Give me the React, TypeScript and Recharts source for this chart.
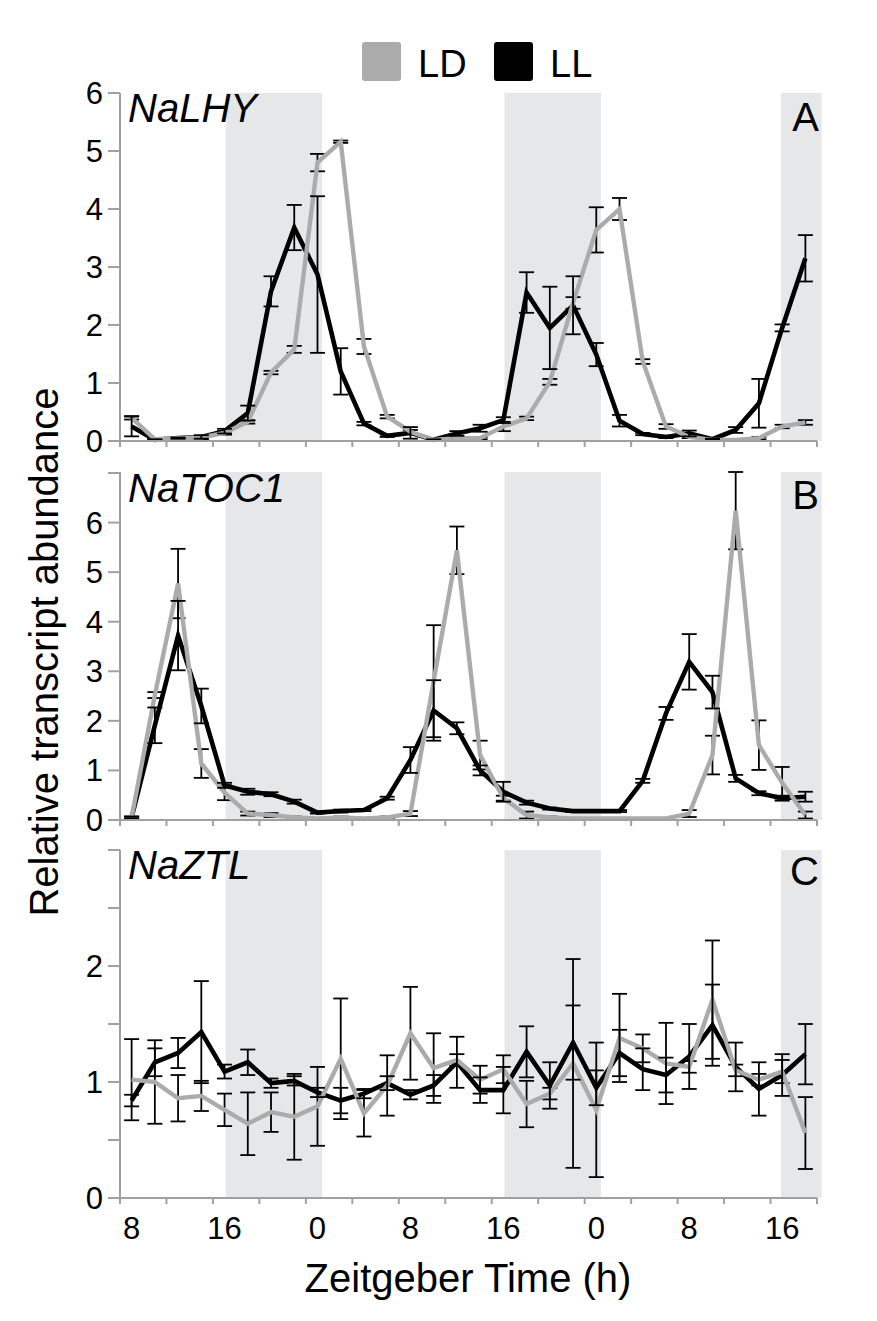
import React from 'react';
import { LineChart, Line, XAxis, YAxis, ReferenceArea, ErrorBar } from 'recharts';

// ---------- data ----------
const zeitgeberTime = [8, 10, 12, 14, 16, 18, 20, 22, 24, 26, 28, 30, 32, 34, 36, 38, 40, 42, 44, 46, 48, 50, 52, 54, 56, 58, 60, 62, 64, 66];

const lhyLD = [0.40, 0.03, 0.05, 0.06, 0.14, 0.33, 1.18, 1.58, 4.80, 5.16, 1.63, 0.42, 0.16, 0.02, 0.05, 0.05, 0.25, 0.39, 1.02, 2.38, 3.64, 4.00, 1.37, 0.25, 0.07, 0.02, 0.02, 0.05, 0.25, 0.32];
const lhyLDErr = [0.03, 0.01, 0.01, 0.03, 0.03, 0.03, 0.03, 0.06, 0.15, 0.02, 0.13, 0.03, 0.03, 0.01, 0.02, 0.02, 0.08, 0.03, 0.05, 0.10, 0.39, 0.19, 0.04, 0.04, 0.02, 0.01, 0.01, 0.02, 0.03, 0.04];
const lhyLL = [0.25, 0.02, 0.05, 0.07, 0.17, 0.48, 2.58, 3.68, 2.87, 1.20, 0.30, 0.09, 0.14, 0.02, 0.13, 0.22, 0.36, 2.56, 1.95, 2.34, 1.49, 0.35, 0.12, 0.07, 0.13, 0.03, 0.19, 0.65, 1.95, 3.15];
const lhyLLErr = [0.17, 0.01, 0.01, 0.03, 0.04, 0.13, 0.26, 0.39, 1.35, 0.40, 0.03, 0.02, 0.10, 0.01, 0.04, 0.06, 0.05, 0.35, 0.71, 0.50, 0.20, 0.10, 0.02, 0.02, 0.05, 0.01, 0.05, 0.42, 0.06, 0.40];

const toc1LD = [0.05, 2.52, 4.77, 1.14, 0.55, 0.13, 0.10, 0.05, 0.03, 0.05, 0.03, 0.05, 0.13, 2.80, 5.44, 1.31, 0.44, 0.10, 0.05, 0.03, 0.03, 0.03, 0.03, 0.03, 0.13, 1.31, 6.24, 1.51, 0.75, 0.10];
const toc1LDErr = [0.02, 0.06, 0.70, 0.29, 0.15, 0.04, 0.04, 0.02, 0.01, 0.02, 0.01, 0.02, 0.05, 1.13, 0.48, 0.29, 0.05, 0.07, 0.02, 0.01, 0.01, 0.01, 0.01, 0.01, 0.07, 0.39, 0.78, 0.50, 0.32, 0.07];
const toc1LL = [0.05, 1.91, 3.72, 2.30, 0.70, 0.57, 0.52, 0.37, 0.15, 0.18, 0.20, 0.44, 1.21, 2.21, 1.85, 1.00, 0.57, 0.35, 0.23, 0.18, 0.18, 0.18, 0.79, 2.15, 3.19, 2.58, 0.84, 0.54, 0.44, 0.47];
const toc1LLErr = [0.02, 0.36, 0.70, 0.35, 0.05, 0.06, 0.04, 0.04, 0.02, 0.03, 0.02, 0.03, 0.26, 0.61, 0.12, 0.10, 0.20, 0.04, 0.02, 0.02, 0.02, 0.02, 0.04, 0.13, 0.56, 0.33, 0.07, 0.04, 0.05, 0.10];

const ztlLD = [1.02, 1.00, 0.86, 0.88, 0.76, 0.64, 0.74, 0.70, 0.79, 1.20, 0.73, 0.97, 1.42, 1.12, 1.19, 1.02, 1.11, 0.81, 0.90, 1.16, 0.76, 1.38, 1.29, 1.16, 1.13, 1.71, 1.10, 1.02, 1.09, 0.56];
const ztlLDErr = [0.35, 0.36, 0.20, 0.13, 0.14, 0.27, 0.17, 0.37, 0.34, 0.52, 0.20, 0.26, 0.40, 0.30, 0.05, 0.12, 0.12, 0.20, 0.05, 0.90, 0.58, 0.38, 0.12, 0.35, 0.05, 0.51, 0.05, 0.05, 0.10, 0.31];
const ztlLL = [0.84, 1.17, 1.25, 1.43, 1.09, 1.17, 0.99, 1.01, 0.91, 0.84, 0.90, 0.99, 0.89, 0.97, 1.17, 0.93, 0.93, 1.26, 0.97, 1.34, 0.95, 1.25, 1.11, 1.06, 1.22, 1.49, 1.13, 0.94, 1.06, 1.24];
const ztlLLErr = [0.05, 0.12, 0.13, 0.44, 0.06, 0.11, 0.04, 0.04, 0.04, 0.11, 0.04, 0.06, 0.04, 0.09, 0.22, 0.11, 0.20, 0.22, 0.20, 0.32, 0.15, 0.20, 0.18, 0.15, 0.28, 0.35, 0.21, 0.23, 0.18, 0.26];

const seriesNames = ['LD', 'LL'];
const geneNames = ['NaLHY', 'NaTOC1', 'NaZTL'];
const panelLetters = ['A', 'B', 'C'];

const darkPeriods: [number, number][] = [[16.1, 24.4], [40.1, 48.4], [63.9, 67.4]];
const markTicks = [7, 11, 15, 19, 23, 27, 31, 35, 39, 43, 47, 51, 55, 59, 63, 67];
const labelTicks = [8, 16, 24, 32, 40, 48, 56, 64];

const yTicksA = [0, 1, 2, 3, 4, 5, 6];
const yTicksB = [0, 1, 2, 3, 4, 5, 6, 7];
const yTicksC = [0, 0.5, 1, 1.5, 2, 2.5, 3];
const yLabelsA = [0, 1, 2, 3, 4, 5, 6];
const yLabelsB = [0, 1, 2, 3, 4, 5, 6];
const yLabelsC = [0, 1, 2];

// ---------- styling ----------
const W = 877;
const H = 1321;
const FONT = '"Liberation Sans", Arial, Helvetica, sans-serif';
const AXIS = '#a0a0a0';
const LD_COLOR = '#ababab';
const LL_COLOR = '#000000';
const SHADE = '#e6e7e9';
const PLOT_LEFT = 120;
const PLOT_RIGHT = 817;
const PLOT_H = 348;
const Y_AXIS_W = 40;
const X_AXIS_H = 30;
const TICK_FONT = 31;

const buildRows = (ld: number[], ldErr: number[], ll: number[], llErr: number[]) =>
  zeitgeberTime.map((t, i) => ({ t, ld: ld[i], ldErr: ldErr[i], ll: ll[i], llErr: llErr[i] }));

const panels = [
  { top: 93, rows: buildRows(lhyLD, lhyLDErr, lhyLL, lhyLLErr), yMax: 6, yTicks: yTicksA, yLabels: yLabelsA, showX: false },
  { top: 472, rows: buildRows(toc1LD, toc1LDErr, toc1LL, toc1LLErr), yMax: 7, yTicks: yTicksB, yLabels: yLabelsB, showX: false },
  { top: 850, rows: buildRows(ztlLD, ztlLDErr, ztlLL, ztlLLErr), yMax: 3, yTicks: yTicksC, yLabels: yLabelsC, showX: true },
];

const allXTicks = [...markTicks, ...labelTicks].sort((a, b) => a - b);

const XTick = (props: any) => {
  const { x, y, payload, showLabels } = props;
  const v = payload.value;
  if (markTicks.includes(v)) {
    return <line x1={x} y1={y} x2={x} y2={y + 6} stroke={AXIS} strokeWidth={2} />;
  }
  if (showLabels && labelTicks.includes(v)) {
    return (
      <text x={x} y={y + 19} dy="0.71em" textAnchor="middle" fontSize={TICK_FONT} fontFamily={FONT} fill="#000">
        {String(v % 24)}
      </text>
    );
  }
  return <g />;
};

const Panel = ({ p }: { p: (typeof panels)[number] }) => (
  <div style={{ position: 'absolute', left: 0, top: 0 }}>
    <LineChart
      width={W}
      height={H}
      data={p.rows}
      margin={{ top: p.top, bottom: H - p.top - PLOT_H - X_AXIS_H, left: PLOT_LEFT - Y_AXIS_W, right: W - PLOT_RIGHT }}
    >
      <XAxis
        dataKey="t"
        type="number"
        domain={[7, 67]}
        ticks={allXTicks}
        interval={0}
        height={X_AXIS_H}
        tickLine={false}
        tickSize={0}
        tickMargin={0}
        axisLine={{ stroke: AXIS, strokeWidth: 2 }}
        tick={(tp: any) => <XTick {...tp} showLabels={p.showX} />}
      />
      <YAxis
        type="number"
        domain={[0, p.yMax]}
        ticks={p.yTicks}
        interval={0}
        width={Y_AXIS_W}
        tickSize={12}
        tickMargin={5}
        axisLine={{ stroke: AXIS, strokeWidth: 2 }}
        tickLine={{ stroke: AXIS, strokeWidth: 2 }}
        tick={{ fontSize: TICK_FONT, fill: '#000', fontFamily: FONT }}
        tickFormatter={(v: number) => (p.yLabels.includes(v) ? String(v) : '')}
      />
      {darkPeriods.map(([a, b], i) => (
        <ReferenceArea key={i} x1={a} x2={b} fill={SHADE} fillOpacity={1} stroke="none" ifOverflow="visible" />
      ))}
      <Line type="linear" dataKey="ll" name={seriesNames[1]} stroke={LL_COLOR} strokeWidth={4.6} dot={false} activeDot={false} isAnimationActive={false} />
      <Line type="linear" dataKey="ld" name={seriesNames[0]} stroke={LD_COLOR} strokeWidth={4.4} dot={false} activeDot={false} isAnimationActive={false}>
        <ErrorBar dataKey="ldErr" width={7.5} stroke="#000" strokeWidth={1.8} direction="y" isAnimationActive={false} />
      </Line>
      <Line type="linear" dataKey="ll" stroke="none" strokeWidth={0} dot={false} activeDot={false} legendType="none" isAnimationActive={false}>
        <ErrorBar dataKey="llErr" width={7.5} stroke="#000" strokeWidth={1.8} direction="y" isAnimationActive={false} />
      </Line>
    </LineChart>
  </div>
);

export default function App() {
  return (
    <div style={{ position: 'absolute', left: 0, top: 0, width: W, height: H, background: '#fff', fontFamily: FONT }}>
      {panels.map((p, i) => (
        <Panel key={i} p={p} />
      ))}
      <svg width={W} height={H} style={{ position: 'absolute', left: 0, top: 0, pointerEvents: 'none' }}>
        {/* legend */}
        <rect x={362} y={42} width={39} height={39} rx={3} fill={LD_COLOR} />
        <text x={418} y={77} fontSize={38} fontFamily={FONT} fill="#000">{seriesNames[0]}</text>
        <rect x={494} y={42} width={39} height={39} rx={3} fill={LL_COLOR} />
        <text x={550} y={77} fontSize={38} fontFamily={FONT} fill="#000">{seriesNames[1]}</text>
        {/* gene names */}
        <text x={128} y={122} fontSize={40} fontStyle="italic" fontFamily={FONT} fill="#000">{geneNames[0]}</text>
        <text x={128} y={502} fontSize={40} fontStyle="italic" fontFamily={FONT} fill="#000">{geneNames[1]}</text>
        <text x={128} y={879} fontSize={40} fontStyle="italic" fontFamily={FONT} fill="#000">{geneNames[2]}</text>
        {/* panel letters */}
        <text x={819} y={131} textAnchor="end" fontSize={40} fontFamily={FONT} fill="#000">{panelLetters[0]}</text>
        <text x={819} y={509} textAnchor="end" fontSize={40} fontFamily={FONT} fill="#000">{panelLetters[1]}</text>
        <text x={819} y={885} textAnchor="end" fontSize={40} fontFamily={FONT} fill="#000">{panelLetters[2]}</text>
        {/* axis titles */}
        <text transform="rotate(-90)" x={-652} y={58} textAnchor="middle" fontSize={40} fontFamily={FONT} fill="#000">
          Relative transcript abundance
        </text>
        <text x={468} y={1292} textAnchor="middle" fontSize={40} fontFamily={FONT} fill="#000">
          Zeitgeber Time (h)
        </text>
      </svg>
    </div>
  );
}
